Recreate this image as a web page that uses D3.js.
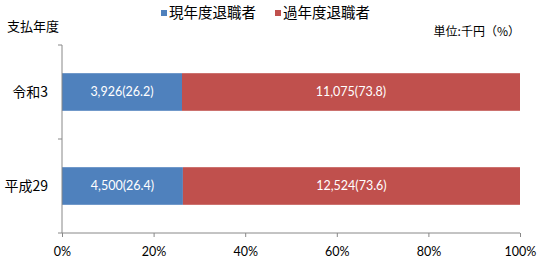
<!DOCTYPE html>
<meta charset="utf-8">
<style>
body { margin: 0; background: #fff; }
text { font-family: "Noto Sans CJK JP", sans-serif; fill: #000; }
.num { font-family: Lato, "Noto Sans CJK JP", sans-serif; }
.axis path, .axis line { stroke: #888; }
</style>
<script src="https://d3js.org/d3.v7.min.js"></script>
<div id="chart"></div>
<script>
// data
var years = ["令和3", "平成29"];
var seriesNames = ["現年度退職者", "過年度退職者"];
var seriesColors = ["#4F81BD", "#C0504D"];
var amounts = [[3926, 11075], [4500, 12524]];
var shares = [[26.2, 73.8], [26.4, 73.6]];
var tickValues = [0, 20, 40, 60, 80, 100];

var W = 542, H = 261;
var svg = d3.select("#chart").append("svg")
  .attr("width", W).attr("height", H);

var x = d3.scaleLinear().domain([0, 100]).range([62, 520]);
var y = d3.scaleBand().domain(years).range([45, 233])
  .paddingInner(0.6).paddingOuter(0.3);

// bars
years.forEach(function(yr, i) {
  var start = 0;
  shares[i].forEach(function(s, j) {
    var x0 = x(start), x1 = x(start + s);
    svg.append("rect")
      .attr("x", x0).attr("y", y(yr))
      .attr("width", x1 - x0).attr("height", y.bandwidth())
      .attr("fill", seriesColors[j]);
    svg.append("text").attr("class", "num")
      .attr("x", (x0 + x1) / 2).attr("y", y(yr) + y.bandwidth() / 2)
      .attr("dy", "0.35em").attr("text-anchor", "middle")
      .style("fill", "#fff").style("font-size", "12.5px")
      .text(d3.format(",")(amounts[i][j]) + "(" + s.toFixed(1) + ")");
    start += s;
  });
});

// x axis
var xAxis = svg.append("g").attr("class", "axis")
  .attr("transform", "translate(0,233)")
  .call(d3.axisBottom(x).tickValues(tickValues).tickSize(4).tickSizeOuter(0)
    .tickFormat(function(d) { return d + "%"; }));
xAxis.select(".domain").attr("d", "M62,0H520");
xAxis.selectAll("text").attr("class", "num")
  .attr("y", 14).style("font-size", "12.5px").style("fill", "#000");

// y axis: line with ticks at band boundaries
var yAxis = svg.append("g").attr("class", "axis");
yAxis.append("line").attr("x1", 62).attr("x2", 62).attr("y1", 45).attr("y2", 233);
[45, 139, 233].forEach(function(v) {
  yAxis.append("line").attr("x1", 58).attr("x2", 62).attr("y1", v).attr("y2", v);
});
years.forEach(function(yr) {
  svg.append("text")
    .attr("x", 48).attr("y", y(yr) + y.bandwidth() / 2)
    .attr("dy", "0.35em").attr("text-anchor", "end")
    .style("font-size", "14px").text(yr);
});

// titles
svg.append("text").attr("x", 7).attr("y", 26).attr("dy", "0.35em")
  .style("font-size", "13px").text("支払年度");
svg.append("text").attr("x", 520).attr("y", 32).attr("dy", "0.35em")
  .attr("text-anchor", "end").style("font-size", "12px").text("単位:千円（%）");

// legend
var legX = [161, 275];
seriesNames.forEach(function(n, j) {
  svg.append("rect").attr("x", legX[j]).attr("y", 10).attr("width", 6).attr("height", 6)
    .attr("fill", seriesColors[j]);
  svg.append("text").attr("x", legX[j] + 8).attr("y", 13).attr("dy", "0.35em")
    .style("font-size", "14.5px").text(n);
});
</script>
